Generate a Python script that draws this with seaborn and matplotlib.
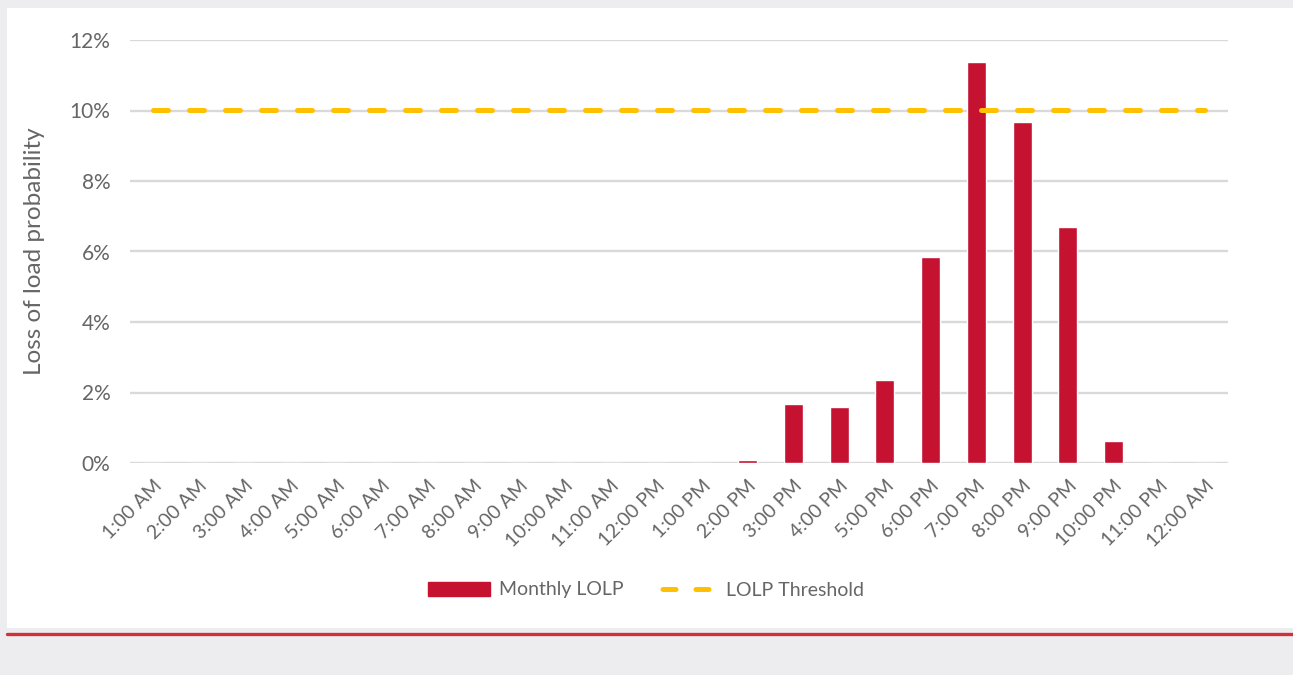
import matplotlib
matplotlib.use("Agg")
import matplotlib.pyplot as plt
import matplotlib.patches as mpatches
import matplotlib.lines as mlines
from matplotlib.ticker import FuncFormatter, MultipleLocator
import seaborn as sns
import pandas as pd

hours = ["1:00 AM", "2:00 AM", "3:00 AM", "4:00 AM", "5:00 AM", "6:00 AM", "7:00 AM",
         "8:00 AM", "9:00 AM", "10:00 AM", "11:00 AM", "12:00 PM", "1:00 PM", "2:00 PM",
         "3:00 PM", "4:00 PM", "5:00 PM", "6:00 PM", "7:00 PM", "8:00 PM", "9:00 PM",
         "10:00 PM", "11:00 PM", "12:00 AM"]
monthly_lolp = [0, 0, 0, 0, 0, 0, 0, 0, 0, 0, 0, 0, 0, 0.0008,
                0.0168, 0.0158, 0.0235, 0.0584, 0.1138, 0.0967, 0.0670, 0.0063, 0, 0]
threshold = [0.10] * 24

sns.set_theme(style="white")
plt.rcParams['font.family'] = ['Lato', 'DejaVu Sans']

TXT = "#666666"
RED = "#c41230"
YEL = "#ffc000"
fig = plt.figure(figsize=(12.93, 6.75), dpi=100)
fig.patch.set_facecolor("#ededef")
# white panel
fig.patches.append(mpatches.Rectangle((7/1293, 1-628/675), 1, 620/675,
                                      transform=fig.transFigure, facecolor="white",
                                      edgecolor="none", zorder=0))
fig.lines.append(mlines.Line2D([7/1293, 1], [1-633.5/675]*2, transform=fig.transFigure,
                               color="#d0303a", lw=2.4, zorder=1))

ax = fig.add_axes([130/1293, 1-463/675, 1098/1293, 423/675])
ax.set_zorder(5)
ax.set_facecolor("none")
df = pd.DataFrame({"hour": hours, "lolp": monthly_lolp, "thr": threshold})
sns.barplot(data=df, x="hour", y="lolp", color=RED, width=0.42,
            saturation=1, ax=ax, zorder=3)
ax.plot(range(24), df["thr"], color=YEL, lw=3.6, dashes=(3.0, 4.2),
        dash_capstyle="round", zorder=4)

ax.set_xlim(-0.5, 23.5)
ax.set_ylim(0, 0.12)
ax.yaxis.set_major_locator(MultipleLocator(0.02))
ax.yaxis.set_major_formatter(FuncFormatter(lambda v, p: f"{v*100:.0f}%"))
ax.grid(axis="y", color="#d9d9d9", lw=1.7, zorder=0)
ax.set_axisbelow(True)
for s in ax.spines.values():
    s.set_visible(False)
ax.tick_params(axis="y", length=0, pad=14, labelsize=15, labelcolor=TXT)
ax.tick_params(axis="x", length=0, pad=10, labelsize=14, labelcolor=TXT)
plt.setp(ax.get_xticklabels(), rotation=45, ha="right", rotation_mode="anchor")
ax.set_xlabel("")
ax.set_ylabel("Loss of load probability", fontsize=17.5, color=TXT)
ax.get_yaxis().set_label_coords(-0.077, 0.5)

handles = [mpatches.Patch(color=RED, label="Monthly LOLP"),
           mlines.Line2D([], [], color=YEL, lw=3.6, linestyle=(5.1, (2.6, 4.0)),
                         dash_capstyle="round", label="LOLP Threshold")]
leg = fig.legend(handles=handles, loc="center", bbox_to_anchor=(646/1293, 1-590/675),
                 ncol=2, frameon=False, fontsize=14, handlelength=3.2, handleheight=0.75,
                 columnspacing=1.6, handletextpad=0.45)
for t in leg.get_texts():
    t.set_color(TXT)

fig.savefig("out.png", dpi=100, facecolor=fig.get_facecolor())
